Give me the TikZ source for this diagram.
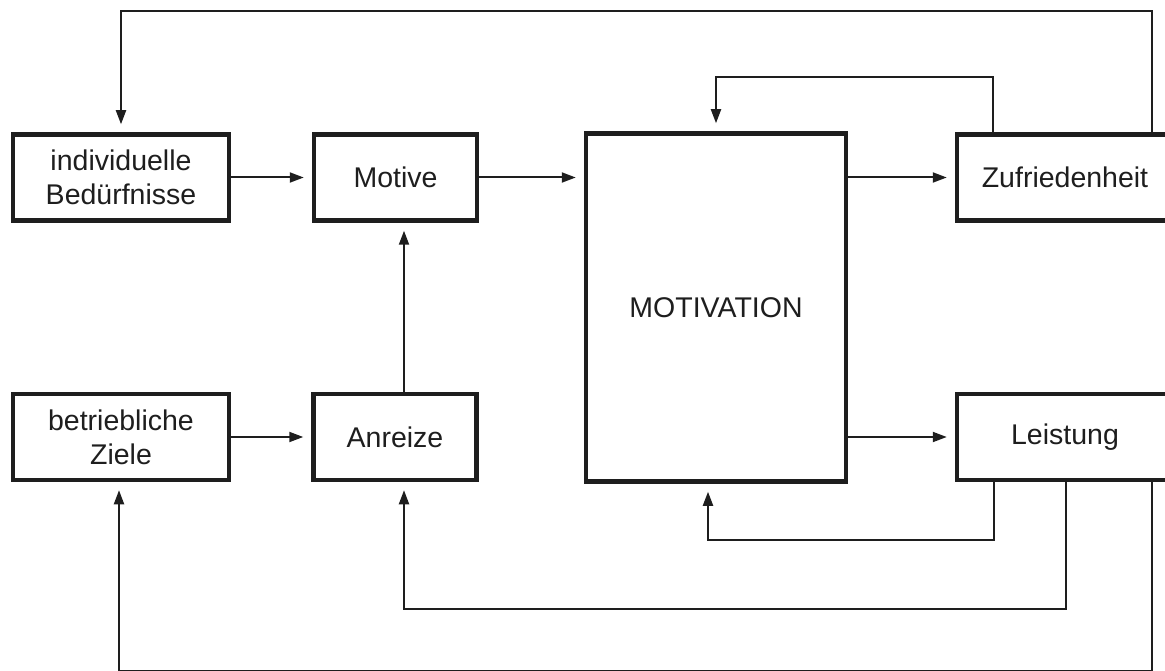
\documentclass[tikz,border=0pt]{standalone}
\usepackage{fontspec}
\setmainfont{Liberation Sans}
\usetikzlibrary{arrows.meta}
\definecolor{ink}{HTML}{1E1E1E}
\begin{document}
\begin{tikzpicture}[x=1pt,y=-1pt,
  box/.style={draw=ink, line width=4.5pt, fill=white, text=ink, align=center,
              font=\fontsize{28.5}{34}\selectfont, inner sep=0pt},
  widebox/.style={box, minimum width=216pt, minimum height=86pt},
  smallbox/.style={box, minimum width=163pt, minimum height=86pt},
  conn/.style={draw=ink, line width=2pt, -{Triangle[length=14pt,width=10pt]}, shorten >=8pt}]
\useasboundingbox (0,0) rectangle (1165,671);
\begin{scope}
\clip (0,0) rectangle (1165,671);

% boxes
\node[widebox]  (bed)  at (121,177.5)  {individuelle\\Bedürfnisse};
\node[smallbox] (mtv)  at (395.5,177.5) {Motive};
\node[box, minimum width=260pt, minimum height=348pt] (mot) at (716,307.5) {MOTIVATION};
\node[widebox]  (zuf)  at (1065,177.5) {Zufriedenheit};
\node[widebox]  (ziel) at (121,437)    {betriebliche\\Ziele};
\node[smallbox] (anr)  at (395,437)    {Anreize};
\node[widebox]  (lei)  at (1065,437)   {Leistung};

% forward flow
\draw[conn] (bed) -- (mtv);
\draw[conn] (mtv.east) -- (mtv.east -| mot.west);
\draw[conn] (mot.east |- zuf) -- (zuf.west);
\draw[conn] (mot.east |- lei) -- (lei.west);
\draw[conn] (ziel) -- (anr);
\coordinate (ax) at (404,0);
\draw[conn] (anr.north -| ax) -- (mtv.south -| ax);

% feedback loops
\coordinate (k1) at (1152,11);
\draw[conn] (zuf.north -| k1) -- (k1) -| (bed.north);
\coordinate (k2) at (993,77);
\draw[conn] (zuf.north -| k2) -- (k2) -| (mot.north);
\coordinate (k3) at (994,540);
\coordinate (m3) at (708,0);
\draw[conn] (lei.south -| k3) -- (k3) -| (mot.south -| m3);
\coordinate (k4) at (1066,609);
\draw[conn] (lei.south -| k4) -- (k4) -| (anr.south -| ax);
\coordinate (k5) at (1152,671);
\coordinate (m5) at (119,0);
\draw[conn] (lei.south -| k5) -- (k5) -| (ziel.south -| m5);
\end{scope}
\end{tikzpicture}
\end{document}
